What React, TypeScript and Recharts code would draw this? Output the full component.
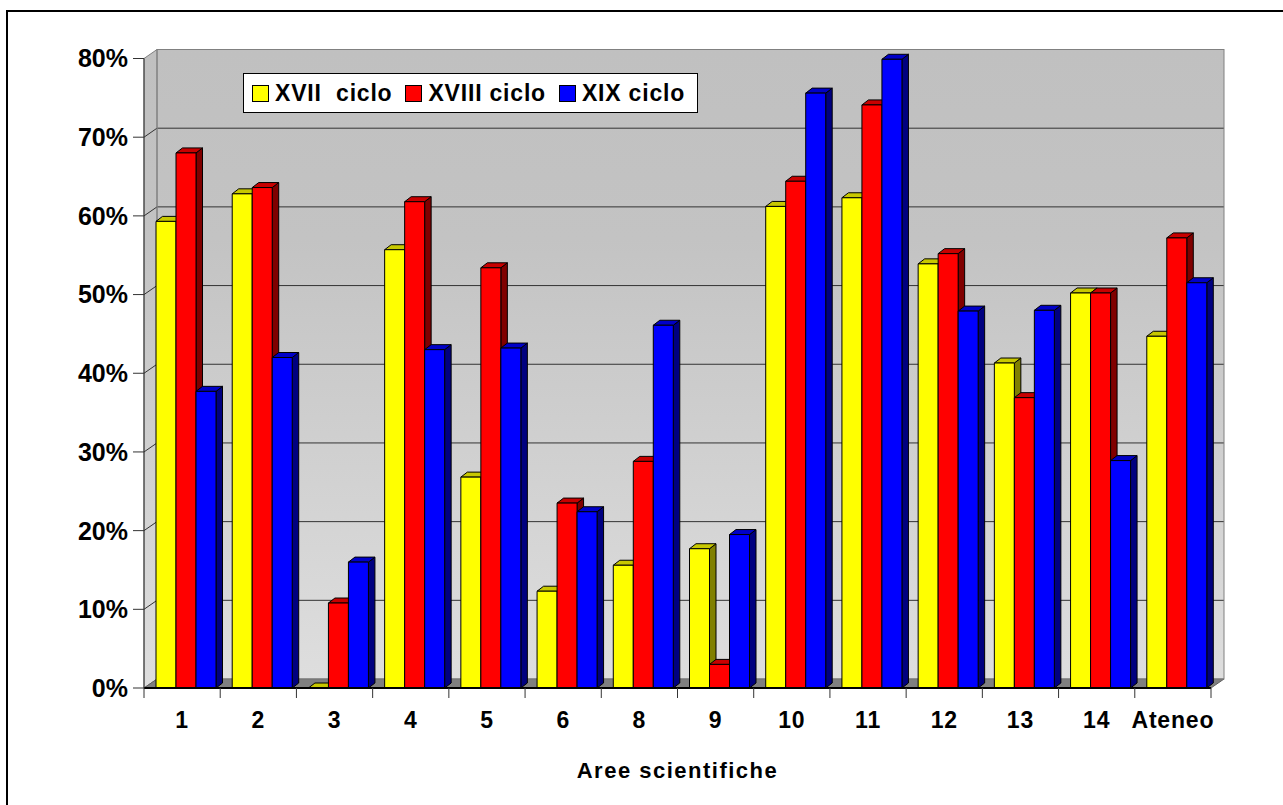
import React from "react";
import {
  Bar,
  BarChart,
  CartesianGrid,
  Customized,
  Legend,
  XAxis,
  YAxis,
} from "recharts";

const CATEGORIES = ["1", "2", "3", "4", "5", "6", "8", "9", "10", "11", "12", "13", "14", "Ateneo"];
const XVII_CICLO = [59.3, 62.8, 0, 55.7, 26.8, 12.3, 15.6, 17.7, 61.2, 62.3, 53.9, 41.3, 50.2, 44.7];
const XVIII_CICLO = [68.0, 63.6, 10.8, 61.8, 53.4, 23.5, 28.8, 3.0, 64.4, 74.1, 55.2, 36.9, 50.2, 57.2];
const XIX_CICLO = [37.7, 42.0, 16.0, 43.0, 43.2, 22.4, 46.1, 19.5, 75.6, 79.9, 47.9, 48.0, 28.9, 51.5];
const Y_TICKS = [0, 10, 20, 30, 40, 50, 60, 70, 80];
const SERIES_NAMES = ["XVII  ciclo", "XVIII ciclo", "XIX ciclo"];

const data = CATEGORIES.map((area, i) => ({
  area,
  xvii: XVII_CICLO[i],
  xviii: XVIII_CICLO[i],
  xix: XIX_CICLO[i],
}));

// layout
const W = 1283;
const H = 805;
const PLOT_L = 144;
const PLOT_R = 1211;
const PLOT_T = 58.5;
const PLOT_B = 688;
const DEPTH_X = 13;
const DEPTH_Y = 9;
const BAR_DX = 6.5;
const BAR_DY = 5;
const BAR_SHIFT = 4;
const Y_MAX = 80;
const BAND = (PLOT_R - PLOT_L) / CATEGORIES.length;
const FONT = '"Liberation Sans", Arial, sans-serif';

const STYLES: Record<string, { front: string; top: string; side: string }> = {
  xvii: { front: "#ffff00", top: "#c8c800", side: "#808000" },
  xviii: { front: "#ff0000", top: "#c80000", side: "#800000" },
  xix: { front: "#0000ff", top: "#0000c8", side: "#000080" },
};

const yFront = (v: number) => PLOT_B - (v / Y_MAX) * (PLOT_B - PLOT_T);

const axisY = (axis: any) => (v: number) => {
  const s = axis?.scale;
  if (typeof s === "function") {
    const r = s(v);
    if (typeof r === "number" && !isNaN(r)) return r;
  }
  if (s && typeof s.map === "function") {
    const r = s.map(v);
    if (typeof r === "number" && !isNaN(r)) return r;
  }
  return yFront(v);
};

const make3DBar = (key: string) => (props: any) => {
  const { x, y, width, height } = props;
  const st = STYLES[key];
  if (x == null || y == null || isNaN(x) || isNaN(y)) return <g />;
  const h = Math.max(0, height || 0);
  const x0 = x + BAR_SHIFT;
  const x1 = x0 + width;
  const y1 = y + h;
  return (
    <g strokeLinejoin="round">
      <polygon
        points={`${x1},${y} ${x1 + BAR_DX},${y - BAR_DY} ${x1 + BAR_DX},${y1 - BAR_DY} ${x1},${y1}`}
        fill={st.side}
        stroke="#000"
      />
      <polygon
        points={`${x0},${y} ${x0 + BAR_DX},${y - BAR_DY} ${x1 + BAR_DX},${y - BAR_DY} ${x1},${y}`}
        fill={st.top}
        stroke="#000"
      />
      {h > 0 && <rect x={x0} y={y} width={width} height={h} fill={st.front} stroke="#000" />}
    </g>
  );
};

function Walls() {
  const bx = PLOT_L + DEPTH_X;
  return (
    <g>
      <defs>
        <linearGradient id="wallGrad" x1="0" y1="0" x2="0" y2="1">
          <stop offset="0" stopColor="#c0c0c0" />
          <stop offset="0.3" stopColor="#c3c3c3" />
          <stop offset="1" stopColor="#dedede" />
        </linearGradient>
      </defs>
      <polygon
        points={`${PLOT_L},${PLOT_T} ${bx},${PLOT_T - DEPTH_Y} ${bx},${PLOT_B - DEPTH_Y} ${PLOT_L},${PLOT_B}`}
        fill="url(#wallGrad)"
        stroke="#808080"
      />
      {Y_TICKS.slice(1, -1).map((v) => (
        <line key={v} x1={PLOT_L} y1={yFront(v)} x2={bx} y2={yFront(v) - DEPTH_Y} stroke="#333" />
      ))}
      <polygon
        points={`${PLOT_L},${PLOT_B} ${bx},${PLOT_B - DEPTH_Y} ${PLOT_R + DEPTH_X},${PLOT_B - DEPTH_Y} ${PLOT_R},${PLOT_B}`}
        fill="#808080"
        stroke="#606060"
      />
      <rect
        x={bx}
        y={PLOT_T - DEPTH_Y}
        width={PLOT_R - PLOT_L}
        height={PLOT_B - PLOT_T}
        fill="none"
        stroke="#808080"
      />
    </g>
  );
}

const XTick = (props: any) => {
  const { x, payload, index } = props;
  return (
    <g>
      <line x1={x - BAND / 2} y1={PLOT_B} x2={x - BAND / 2} y2={PLOT_B + 10} stroke="#333" />
      {index === CATEGORIES.length - 1 && (
        <line x1={x + BAND / 2} y1={PLOT_B} x2={x + BAND / 2} y2={PLOT_B + 10} stroke="#333" />
      )}
      <text
        x={x}
        y={PLOT_B + 40}
        textAnchor="middle"
        fontFamily={FONT}
        fontWeight={700}
        fontSize={23}
        letterSpacing={0.8}
        fill="#000"
      >
        {payload.value}
      </text>
    </g>
  );
};

const renderLegend = (props: any) => {
  const items = [...(props.payload ?? [])].sort(
    (a: any, b: any) => SERIES_NAMES.indexOf(a.value) - SERIES_NAMES.indexOf(b.value)
  );
  return (
    <div
      style={{
        boxSizing: "border-box",
        width: 455,
        height: 40,
        border: "1px solid #000",
        background: "#fff",
        display: "flex",
        alignItems: "center",
        paddingLeft: 8,
        fontFamily: FONT,
        fontWeight: 700,
        fontSize: 23,
        letterSpacing: 0.8,
        color: "#000",
      }}
    >
      {items.map((it: any, i: number) => (
        <div key={i} style={{ display: "flex", alignItems: "center", marginRight: 13 }}>
          <span
            style={{
              display: "inline-block",
              boxSizing: "border-box",
              width: 17,
              height: 17,
              border: "1px solid #000",
              background: it.color,
              marginRight: 6,
            }}
          />
          <span style={{ whiteSpace: "pre", lineHeight: 1 }}>{it.value}</span>
        </div>
      ))}
    </div>
  );
};

export default function App() {
  return (
    <div
      style={{
        position: "absolute",
        left: 0,
        top: 0,
        width: W,
        height: H,
        overflow: "hidden",
        background: "#fff",
      }}
    >
      <div
        style={{
          position: "absolute",
          left: 6,
          top: 10,
          width: W - 6,
          height: H - 10,
          boxSizing: "border-box",
          borderLeft: "2px solid #000",
          borderTop: "2px solid #000",
        }}
      />
      <div style={{ position: "absolute", left: 0, top: 0 }}>
        <BarChart
          width={W}
          height={H}
          data={data}
          margin={{ top: PLOT_T, right: W - PLOT_R, bottom: 0, left: 0 }}
          barSize={20}
          barGap={0}
        >
          <CartesianGrid
            x={PLOT_L + DEPTH_X}
            y={PLOT_T - DEPTH_Y}
            width={PLOT_R - PLOT_L}
            height={PLOT_B - PLOT_T}
            vertical={false}
            fill="url(#wallGrad)"
            fillOpacity={1}
            stroke="#333"
            horizontalCoordinatesGenerator={({ yAxis }: any) =>
              Y_TICKS.slice(1, -1).map((v) => axisY(yAxis)(v) - DEPTH_Y)
            }
          />
          <Customized component={<Walls />} />
          <XAxis
            dataKey="area"
            height={H - PLOT_B}
            interval={0}
            tickLine={false}
            axisLine={{ stroke: "#000", strokeWidth: 2 }}
            tick={<XTick />}
            label={{
              value: "Aree scientifiche",
              position: "insideBottom",
              offset: 27,
              fontFamily: FONT,
              fontWeight: 700,
              fontSize: 22,
              letterSpacing: 1.5,
              fill: "#000",
            }}
          />
          <YAxis
            width={PLOT_L}
            domain={[0, Y_MAX]}
            ticks={Y_TICKS}
            interval={0}
            tickFormatter={(v: number) => `${v}%`}
            tickSize={11}
            tickMargin={5}
            tickLine={{ stroke: "#333" }}
            axisLine={{ stroke: "#333" }}
            tick={{ fontFamily: FONT, fontWeight: 700, fontSize: 25, fill: "#000" }}
          />
          <Legend
            layout="horizontal"
            verticalAlign="middle"
            align="center"
            wrapperStyle={{ left: 243, top: 73, width: 455, height: 40 }}
            content={renderLegend}
          />
          <Bar dataKey="xvii" name={SERIES_NAMES[0]} fill={STYLES.xvii.front} shape={make3DBar("xvii")} isAnimationActive={false} />
          <Bar dataKey="xviii" name={SERIES_NAMES[1]} fill={STYLES.xviii.front} shape={make3DBar("xviii")} isAnimationActive={false} />
          <Bar dataKey="xix" name={SERIES_NAMES[2]} fill={STYLES.xix.front} shape={make3DBar("xix")} isAnimationActive={false} />
        </BarChart>
      </div>
    </div>
  );
}
